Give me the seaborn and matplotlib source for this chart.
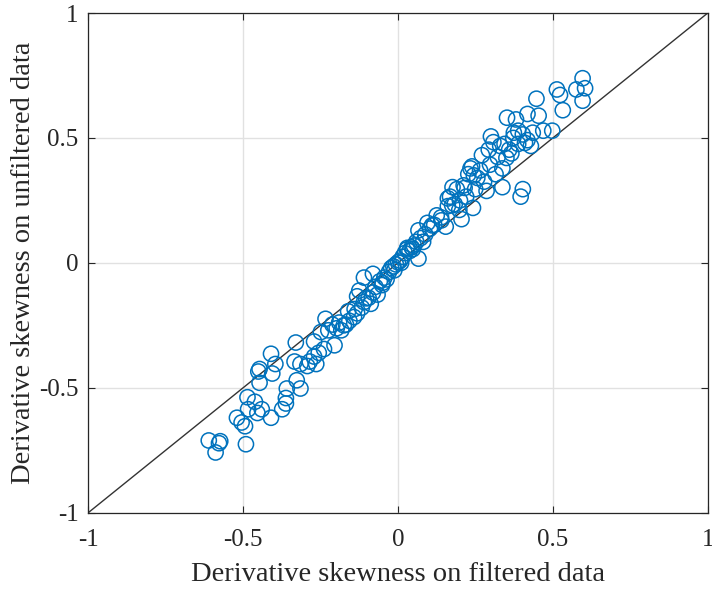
import matplotlib
matplotlib.use("Agg")
import matplotlib.pyplot as plt
import seaborn as sns
import pandas as pd

# ── Data ──────────────────────────────────────────────────────────────────────
skew_filtered = [
    -0.611, -0.589, -0.574, -0.578, -0.491, -0.520, -0.505, -0.494, -0.486, -0.484,
    -0.462, -0.454, -0.440, -0.451, -0.447, -0.447, -0.410, -0.406, -0.396, -0.410,
    -0.374, -0.362, -0.359, -0.362, -0.330, -0.334, -0.315, -0.315, -0.327, -0.293,
    -0.271, -0.271, -0.264, -0.256, -0.249, -0.234, -0.239, -0.205, -0.212, -0.198,
    -0.183, -0.190, -0.168, -0.157, -0.161, -0.142, -0.132, -0.132, -0.117, -0.110,
    -0.125, -0.103, -0.088, -0.110, -0.081, -0.081, -0.073, -0.066, -0.059, -0.051,
    -0.044, -0.037, -0.029, -0.022, -0.015, -0.007, 0.000, 0.007, 0.015, 0.022,
    0.029, 0.037, 0.044, 0.051, 0.059, 0.066, 0.073, 0.066, 0.081, 0.088,
    0.095, 0.103, 0.117, 0.125, 0.139, 0.154, 0.161, 0.168, 0.176, 0.161,
    0.183, 0.190, 0.198, 0.205, 0.212, 0.220, 0.227, 0.234, 0.239, 0.242,
    0.249, 0.256, 0.271, 0.278, 0.286, 0.293, 0.300, 0.308, 0.297, 0.315,
    0.322, 0.330, 0.337, 0.337, 0.344, 0.352, 0.359, 0.374, 0.381, 0.388,
    0.388, 0.396, 0.403, 0.403, 0.418, 0.418, 0.429, 0.435, 0.447, 0.454,
    0.469, 0.498, 0.513, 0.523, 0.532, 0.576, 0.596, 0.604, 0.596, 0.366,
    -0.095, -0.140, -0.175, -0.225, -0.285, -0.050, -0.012, 0.010, 0.048, 0.110,
    0.140, 0.175, 0.200, 0.215, 0.245, 0.265, 0.350, 0.372, 0.410, 0.030,
]
skew_unfiltered = [
    -0.711, -0.759, -0.714, -0.722, -0.726, -0.620, -0.639, -0.654, -0.538, -0.586,
    -0.556, -0.601, -0.586, -0.435, -0.425, -0.480, -0.364, -0.443, -0.405, -0.620,
    -0.586, -0.541, -0.503, -0.563, -0.319, -0.395, -0.405, -0.503, -0.470, -0.413,
    -0.315, -0.375, -0.405, -0.360, -0.277, -0.224, -0.345, -0.330, -0.247, -0.262,
    -0.270, -0.239, -0.247, -0.232, -0.194, -0.217, -0.202, -0.134, -0.179, -0.157,
    -0.111, -0.142, -0.164, -0.059, -0.044, -0.119, -0.096, -0.127, -0.074, -0.089,
    -0.059, -0.066, -0.036, -0.021, -0.014, -0.006, 0.002, 0.009, 0.024, 0.039,
    0.054, 0.047, 0.062, 0.069, 0.084, 0.017, 0.099, 0.130, 0.084, 0.114,
    0.160, 0.137, 0.152, 0.190, 0.182, 0.145, 0.227, 0.265, 0.303, 0.258,
    0.235, 0.295, 0.212, 0.175, 0.310, 0.265, 0.355, 0.378, 0.386, 0.220,
    0.295, 0.340, 0.431, 0.325, 0.288, 0.453, 0.506, 0.483, 0.393, 0.355,
    0.424, 0.468, 0.378, 0.303, 0.476, 0.581, 0.453, 0.521, 0.574, 0.529,
    0.476, 0.265, 0.295, 0.514, 0.596, 0.491, 0.468, 0.521, 0.657, 0.589,
    0.529, 0.529, 0.694, 0.672, 0.611, 0.694, 0.739, 0.699, 0.649, 0.438,
    -0.140, -0.185, -0.250, -0.270, -0.395, -0.080, -0.030, 0.000, 0.055, 0.150,
    0.170, 0.230, 0.250, 0.300, 0.350, 0.370, 0.420, 0.500, 0.480, 0.060,
]
ticks = [-1, -0.5, 0, 0.5, 1]
tick_labels = ["-1", "-0.5", "0", "0.5", "1"]

df = pd.DataFrame({"filtered": skew_filtered, "unfiltered": skew_unfiltered})

# ── Style ─────────────────────────────────────────────────────────────────────
sns.set_theme(style="whitegrid")
plt.rcParams.update({
    "font.family": ["Liberation Serif", "DejaVu Serif"],
    "xtick.direction": "in",
    "ytick.direction": "in",
})

fig = plt.figure(figsize=(7.12, 5.92), dpi=100)
ax = fig.add_axes([0.124, 0.134, 0.870, 0.844])

ax.plot([-1, 1], [-1, 1], color="#333333", linewidth=1.0, zorder=1)
sns.scatterplot(data=df, x="filtered", y="unfiltered", ax=ax,
                marker="o", s=120, facecolors="none", edgecolor="#0072BD",
                linewidth=1.1, zorder=2)

ax.set_xlim(-1, 1)
ax.set_ylim(-1, 1)
ax.set_xticks(ticks)
ax.set_xticklabels(tick_labels)
ax.set_yticks(ticks)
ax.set_yticklabels(tick_labels)
ax.tick_params(labelsize=18, colors="#262626", length=5, width=0.8,
               top=True, right=True, bottom=True, left=True)
ax.tick_params(axis="x", pad=12)
ax.tick_params(axis="y", pad=7)
ax.grid(True, color="#e1e1e1", linewidth=1.0)
for sp in ax.spines.values():
    sp.set_color("#262626")
    sp.set_linewidth(0.9)

ax.set_xlabel("Derivative skewness on filtered data", fontsize=20.5, color="#262626", labelpad=8)
ax.set_ylabel("Derivative skewness on unfiltered data", fontsize=20.5, color="#262626", labelpad=2)

fig.savefig("out.png", dpi=100)
